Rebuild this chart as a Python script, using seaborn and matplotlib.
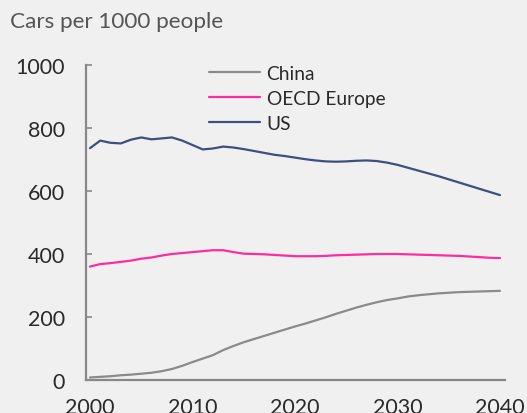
import matplotlib
matplotlib.use("Agg")
import matplotlib.pyplot as plt
import seaborn as sns
import pandas as pd

years = list(range(2000, 2041))
china = [8, 10, 12, 15, 17, 20, 23, 28, 35, 45, 57, 68, 79, 95, 108, 120, 130, 140, 150, 160,
         170, 179, 189, 199, 210, 220, 230, 239, 247, 254, 259, 265, 269, 272, 275, 277, 279,
         280, 281, 282, 283]
oecd_europe = [360, 368, 371, 375, 379, 385, 389, 395, 400, 403, 406, 409, 412, 412, 406, 401,
               400, 399, 397, 395, 393, 393, 393, 394, 396, 397, 398, 399, 400, 400, 400, 399,
               398, 397, 396, 395, 394, 392, 390, 388, 387]
us = [736, 760, 753, 751, 763, 770, 764, 767, 770, 760, 746, 732, 735, 741, 738, 733, 727, 721,
      715, 711, 706, 701, 697, 694, 693, 694, 696, 697, 695, 690, 683, 674, 665, 656, 647, 637,
      627, 617, 607, 597, 587]
series_names = ["China", "OECD Europe", "US"]
colors = ["#8a8a8a", "#ff2ba0", "#3d4f80"]
y_ticks = [0, 200, 400, 600, 800, 1000]
x_ticks = [2000, 2010, 2020, 2030, 2040]

df = pd.DataFrame({
    "year": years * 3,
    "value": china + oecd_europe + us,
    "series": [series_names[0]] * len(years) + [series_names[1]] * len(years) + [series_names[2]] * len(years),
})

sns.set_style("white")
plt.rcParams["font.family"] = ["Lato", "DejaVu Sans"]
bg = "#f0f0f0"
txt = "#2a2a2a"

W, H = 527, 414
fig = plt.figure(figsize=(W / 100, H / 100), dpi=100, facecolor=bg)
ax = fig.add_axes([86 / W, 33 / H, (505 - 86) / W, (381 - 66) / H])
ax.set_facecolor(bg)

sns.lineplot(data=df, x="year", y="value", hue="series", hue_order=series_names,
             palette=colors, linewidth=1.6, ax=ax, legend=True)

ax.set_xlim(1999.61, 2040.49)
ax.set_ylim(0, 1000)
ax.set_xticks(x_ticks)
ax.set_yticks(y_ticks)
ax.set_xlabel("")
ax.set_ylabel("")
for s in ["top", "right"]:
    ax.spines[s].set_visible(False)
for s in ["left", "bottom"]:
    ax.spines[s].set_color("#888888")
    ax.spines[s].set_linewidth(1.6)
ax.tick_params(axis="y", direction="in", length=4, width=1.2, color="#888888",
               labelsize=15.5, labelcolor=txt, pad=15, left=True)
ax.tick_params(axis="x", length=0, labelsize=15.5, labelcolor=txt, pad=12)

leg = ax.legend(loc="upper left", bbox_to_anchor=(201 / W, 1 - 58 / H),
                bbox_transform=fig.transFigure, frameon=False, fontsize=13.8,
                handlelength=2.7, handletextpad=0.32, labelspacing=0.42, borderaxespad=0)
for t in leg.get_texts():
    t.set_color(txt)

fig.text(10 / W, 1 - 22 / H, "Cars per 1000 people", fontsize=16.2, color="#555555",
         va="center", ha="left")

fig.savefig("out.png", dpi=100, facecolor=bg)
